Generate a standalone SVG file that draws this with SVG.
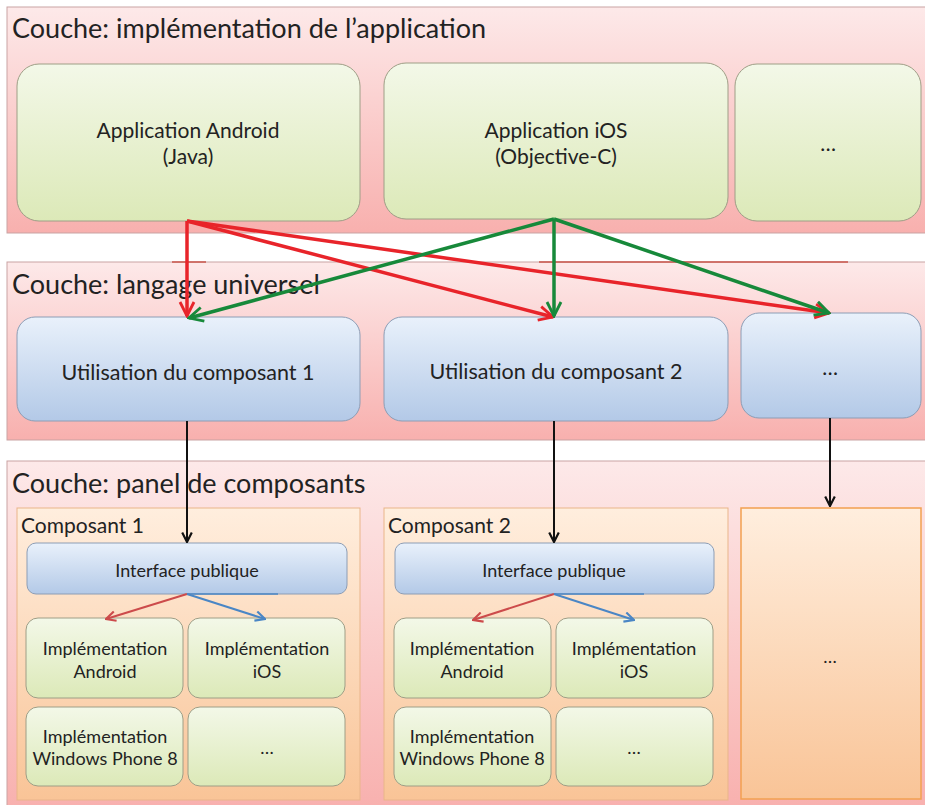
<svg xmlns="http://www.w3.org/2000/svg" width="925" height="805" viewBox="0 0 925 805">
<defs>
<linearGradient id="gLayer" x1="0" y1="0" x2="0" y2="1"><stop offset="0" stop-color="#fde9e9"/><stop offset="1" stop-color="#f8b0ae"/></linearGradient>
<linearGradient id="gGreen" x1="0" y1="0" x2="0" y2="1"><stop offset="0" stop-color="#f3f8e8"/><stop offset="1" stop-color="#dce9b8"/></linearGradient>
<linearGradient id="gBlue" x1="0" y1="0" x2="0" y2="1"><stop offset="0" stop-color="#e9f1fb"/><stop offset="1" stop-color="#b3c9e7"/></linearGradient>
<linearGradient id="gPeach" x1="0" y1="0" x2="0" y2="1"><stop offset="0" stop-color="#ffeede"/><stop offset="1" stop-color="#f9c497"/></linearGradient>
<marker id="mRed" viewBox="0 0 10 10" refX="9" refY="5" markerWidth="5" markerHeight="5" orient="auto" markerUnits="strokeWidth"><path d="M1,1 L9,5 L1,9" fill="none" stroke="#e8242a" stroke-width="1.6"/></marker>
<marker id="mGreen" viewBox="0 0 10 10" refX="9" refY="5" markerWidth="5" markerHeight="5" orient="auto" markerUnits="strokeWidth"><path d="M1,1 L9,5 L1,9" fill="none" stroke="#17893a" stroke-width="1.6"/></marker>
<marker id="mBlack" viewBox="0 0 10 10" refX="9" refY="5" markerWidth="6" markerHeight="6" orient="auto" markerUnits="strokeWidth"><path d="M1,1 L9,5 L1,9" fill="none" stroke="#111" stroke-width="1.8"/></marker>
<marker id="mSRed" viewBox="0 0 10 10" refX="9" refY="5" markerWidth="6" markerHeight="6" orient="auto" markerUnits="strokeWidth"><path d="M1,1 L9,5 L1,9" fill="none" stroke="#cc4b4b" stroke-width="1.8"/></marker>
<marker id="mSBlue" viewBox="0 0 10 10" refX="9" refY="5" markerWidth="6" markerHeight="6" orient="auto" markerUnits="strokeWidth"><path d="M1,1 L9,5 L1,9" fill="none" stroke="#4a86c5" stroke-width="1.8"/></marker>
</defs>
<style>
text{font-family:Lato,"Liberation Sans",sans-serif;fill:#222;}
.layer{fill:url(#gLayer);stroke:#c9a3a3;stroke-width:1;}
.title{font-size:27px;}
.green{fill:url(#gGreen);stroke:#9e9e86;stroke-width:1;}
.blue{fill:url(#gBlue);stroke:#8c9db5;stroke-width:1;}
.peach{fill:url(#gPeach);stroke:#e9b58a;stroke-width:1;}
.lbl{font-size:21px;text-anchor:middle;}
.ulbl{font-size:21.5px;text-anchor:middle;}
.slbl{font-size:18px;text-anchor:middle;}
.ilbl{font-size:18px;text-anchor:middle;}
.clbl{font-size:21px;}
</style>

<g id="layer-app">
<rect class="layer" x="7" y="7" width="930" height="226"/>
<text class="title" x="12" y="38">Couche: implémentation de l’application</text>
</g>
<g id="layer-lang">
<rect class="layer" x="7" y="262" width="930" height="178"/>
<line x1="539" y1="262" x2="848" y2="262" stroke="#c9544a" stroke-width="1.5"/>
<line x1="172" y1="262" x2="206" y2="262" stroke="#c9544a" stroke-width="1.5"/>
<text class="title" x="12" y="294">Couche: langage universel</text>
</g>
<g id="layer-panel">
<rect class="layer" x="7" y="461" width="930" height="350"/>
<text class="title" x="12" y="493">Couche: panel de composants</text>
</g>

<g id="app-android">
<rect class="green" x="17" y="64" width="343" height="157" rx="22"/>
<text class="lbl" x="188" y="138">Application Android</text>
<text class="lbl" x="188" y="164">(Java)</text>
</g>
<g id="app-ios">
<rect class="green" x="384" y="63" width="344" height="156" rx="22"/>
<text class="lbl" x="556" y="138">Application iOS</text>
<text class="lbl" x="556" y="164">(Objective-C)</text>
</g>
<g id="app-more">
<rect class="green" x="735" y="64" width="186" height="157" rx="22"/>
<text class="lbl" x="828" y="151">…</text>
</g>

<g id="use-1">
<rect class="blue" x="17" y="317" width="343" height="104" rx="18"/>
<text class="ulbl" x="188" y="380">Utilisation du composant 1</text>
</g>
<g id="use-2">
<rect class="blue" x="384" y="317" width="344" height="104" rx="18"/>
<text class="ulbl" x="556" y="379">Utilisation du composant 2</text>
</g>
<g id="use-more">
<rect class="blue" x="741" y="313" width="180" height="105" rx="18"/>
<text class="lbl" x="830" y="375">…</text>
</g>

<g id="comp-1">
<rect class="peach" x="17" y="508" width="343" height="292"/>
<text class="clbl" x="21" y="533">Composant 1</text>
</g>
<g id="iface-1">
<rect class="blue" x="27" y="543" width="320" height="51" rx="9"/>
<text class="ilbl" x="187" y="577">Interface publique</text>
</g>
<g id="impl-1-android">
<rect class="green" x="26" y="618" width="157" height="80" rx="12"/>
<text class="slbl" x="105" y="655">Implémentation</text>
<text class="slbl" x="105" y="678">Android</text>
</g>
<g id="impl-1-ios">
<rect class="green" x="188" y="618" width="157" height="80" rx="12"/>
<text class="slbl" x="267" y="655">Implémentation</text>
<text class="slbl" x="267" y="678">iOS</text>
</g>
<g id="impl-1-wp8">
<rect class="green" x="26" y="707" width="157" height="79" rx="12"/>
<text class="slbl" x="105" y="743">Implémentation</text>
<text class="slbl" x="105" y="765">Windows Phone 8</text>
</g>
<g id="impl-1-more">
<rect class="green" x="188" y="707" width="157" height="79" rx="12"/>
<text class="slbl" x="267" y="754">…</text>
</g>

<g id="comp-2">
<rect class="peach" x="384" y="508" width="344" height="292"/>
<text class="clbl" x="388" y="533">Composant 2</text>
</g>
<g id="iface-2">
<rect class="blue" x="395" y="543" width="319" height="51" rx="9"/>
<text class="ilbl" x="554" y="577">Interface publique</text>
</g>
<g id="impl-2-android">
<rect class="green" x="394" y="618" width="157" height="80" rx="12"/>
<text class="slbl" x="472" y="655">Implémentation</text>
<text class="slbl" x="472" y="678">Android</text>
</g>
<g id="impl-2-ios">
<rect class="green" x="556" y="618" width="157" height="80" rx="12"/>
<text class="slbl" x="634" y="655">Implémentation</text>
<text class="slbl" x="634" y="678">iOS</text>
</g>
<g id="impl-2-wp8">
<rect class="green" x="394" y="707" width="157" height="79" rx="12"/>
<text class="slbl" x="472" y="743">Implémentation</text>
<text class="slbl" x="472" y="765">Windows Phone 8</text>
</g>
<g id="impl-2-more">
<rect class="green" x="556" y="707" width="157" height="79" rx="12"/>
<text class="slbl" x="634" y="754">…</text>
</g>

<g id="comp-more">
<rect x="741" y="508" width="180" height="291" fill="url(#gPeach)" stroke="#f2a050" stroke-width="1.5"/>
<text class="slbl" x="830" y="663">…</text>
</g>

<g id="connectors" fill="none">
<g stroke="#e8242a" stroke-width="3.5" marker-end="url(#mRed)">
<line x1="187" y1="221" x2="187" y2="316"/>
<line x1="187" y1="221" x2="553" y2="317"/>
<line x1="187" y1="221" x2="829" y2="313"/>
</g>
<g stroke="#17893a" stroke-width="3.5" marker-end="url(#mGreen)">
<line x1="554" y1="219" x2="189" y2="318"/>
<line x1="554" y1="219" x2="554" y2="316"/>
<line x1="554" y1="219" x2="829" y2="313"/>
</g>
<g stroke="#111" stroke-width="2" marker-end="url(#mBlack)">
<line x1="187" y1="421" x2="187" y2="542"/>
<line x1="554" y1="421" x2="554" y2="542"/>
<line x1="830" y1="418" x2="830" y2="506"/>
</g>
<line x1="187" y1="594" x2="278" y2="594" stroke="#4a86c5" stroke-width="1.5"/>
<line x1="554" y1="594" x2="644" y2="594" stroke="#4a86c5" stroke-width="1.5"/>
<line x1="187" y1="594" x2="106" y2="619" stroke="#cc4b4b" stroke-width="2" marker-end="url(#mSRed)"/>
<line x1="187" y1="594" x2="265" y2="619" stroke="#4a86c5" stroke-width="2" marker-end="url(#mSBlue)"/>
<line x1="554" y1="594" x2="473" y2="620" stroke="#cc4b4b" stroke-width="2" marker-end="url(#mSRed)"/>
<line x1="554" y1="594" x2="634" y2="620" stroke="#4a86c5" stroke-width="2" marker-end="url(#mSBlue)"/>
</g>
</svg>
